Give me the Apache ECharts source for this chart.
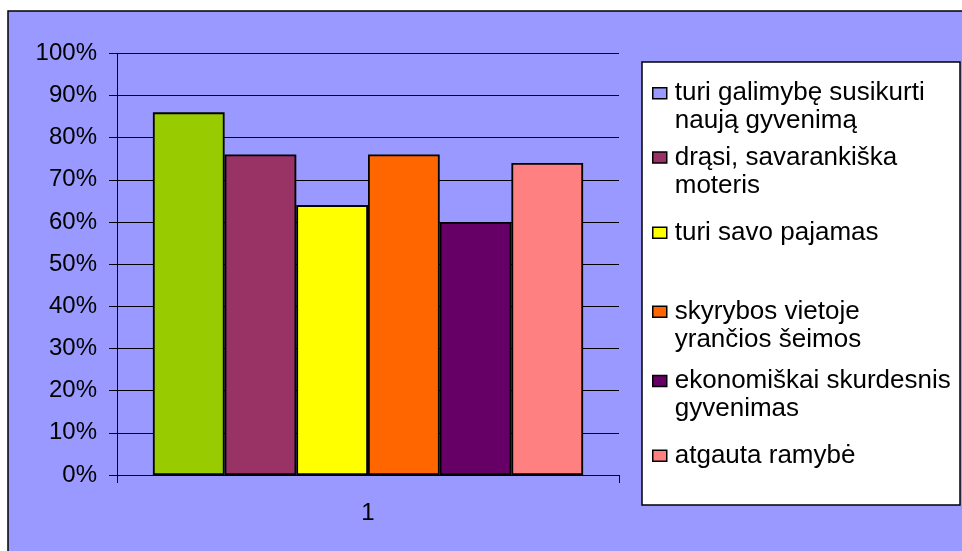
<!DOCTYPE html>
<html>
<head>
<meta charset="utf-8">
<script src="https://cdn.jsdelivr.net/npm/echarts@6/dist/echarts.min.js"></script>
<style>
html,body{margin:0;padding:0;background:#fff;}
#c{width:962px;height:551px;}
</style>
</head>
<body>
<div id="c"></div>
<script>
var categories = ['1'];
var seriesNames = [
  'turi galimybę susikurti\nnaują gyvenimą',
  'drąsi, savarankiška\nmoteris',
  'turi savo pajamas',
  'skyrybos vietoje\nyrančios šeimos',
  'ekonomiškai skurdesnis\ngyvenimas',
  'atgauta ramybė'
];
var seriesValues = [[86], [76], [64], [76], [60], [74]];
var barColors = ['#99CC00', '#993366', '#FFFF00', '#FF6600', '#660066', '#FF8080'];
var legendColors = ['#9999FF', '#993366', '#FFFF00', '#FF6600', '#660066', '#FF8080'];
var yTicks = { min: 0, max: 100, interval: 10 };

var FONT = '"Liberation Sans", Arial, sans-serif';
var legendCenters = [93.3, 157.5, 232.7, 311.7, 381, 455.7];

var legends = seriesNames.map(function (name, i) {
  var twoLine = name.indexOf('\n') >= 0;
  return {
    orient: 'vertical',
    left: 652,
    top: legendCenters[i] - (twoLine ? 48 : 20),
    padding: 0,
    itemWidth: 14,
    itemHeight: 11,
    icon: 'rect',
    selectedMode: false,
    z: 10,
    data: [{ name: name, itemStyle: { color: legendColors[i], borderColor: '#000', borderWidth: 1.5 } }],
    formatter: function (n) { return n.indexOf('\n') >= 0 ? '\n' + n : n; },
    textStyle: {
      fontFamily: FONT, fontSize: 26, color: '#000', lineHeight: 28,
      padding: [0, 0, 12, 3]
    }
  };
});

var series = seriesNames.map(function (name, i) {
  return {
    name: name,
    type: 'bar',
    data: seriesValues[i],
    barGap: '0%',
    barCategoryGap: '14.3%',
    itemStyle: { color: barColors[i], borderColor: '#000', borderWidth: 1.8 },
    emphasis: { disabled: true }
  };
});

var chart = echarts.init(document.getElementById('c'), null, { renderer: 'canvas' });
chart.setOption({
  animation: false,
  backgroundColor: '#fff',
  graphic: [
    { type: 'rect', z: -10, shape: { x: 8, y: 11, width: 970, height: 560 },
      style: { fill: '#9999FF', stroke: '#000', lineWidth: 1.5 }, silent: true },
    { type: 'rect', z: 5, shape: { x: 642, y: 62, width: 318, height: 443 },
      style: { fill: '#fff', stroke: '#000', lineWidth: 1.5 }, silent: true }
  ],
  grid: { left: 117, top: 53.3, right: 343, bottom: 76, containLabel: false },
  legend: legends,
  xAxis: {
    type: 'category',
    data: categories,
    axisLine: { lineStyle: { color: '#000', width: 1 } },
    axisTick: { show: true, length: 8, alignWithLabel: false, lineStyle: { color: '#000' } },
    axisLabel: { fontFamily: FONT, fontSize: 24, color: '#000', margin: 26 }
  },
  yAxis: {
    type: 'value',
    min: yTicks.min, max: yTicks.max, interval: yTicks.interval,
    axisLine: { show: true, lineStyle: { color: '#000', width: 1 } },
    axisTick: { show: true, length: 8, lineStyle: { color: '#000' } },
    splitLine: { show: true, lineStyle: { color: '#000', width: 1 } },
    axisLabel: { fontFamily: FONT, fontSize: 24, color: '#000', margin: 20, formatter: '{value}%' }
  },
  series: series
});
</script>
</body>
</html>
